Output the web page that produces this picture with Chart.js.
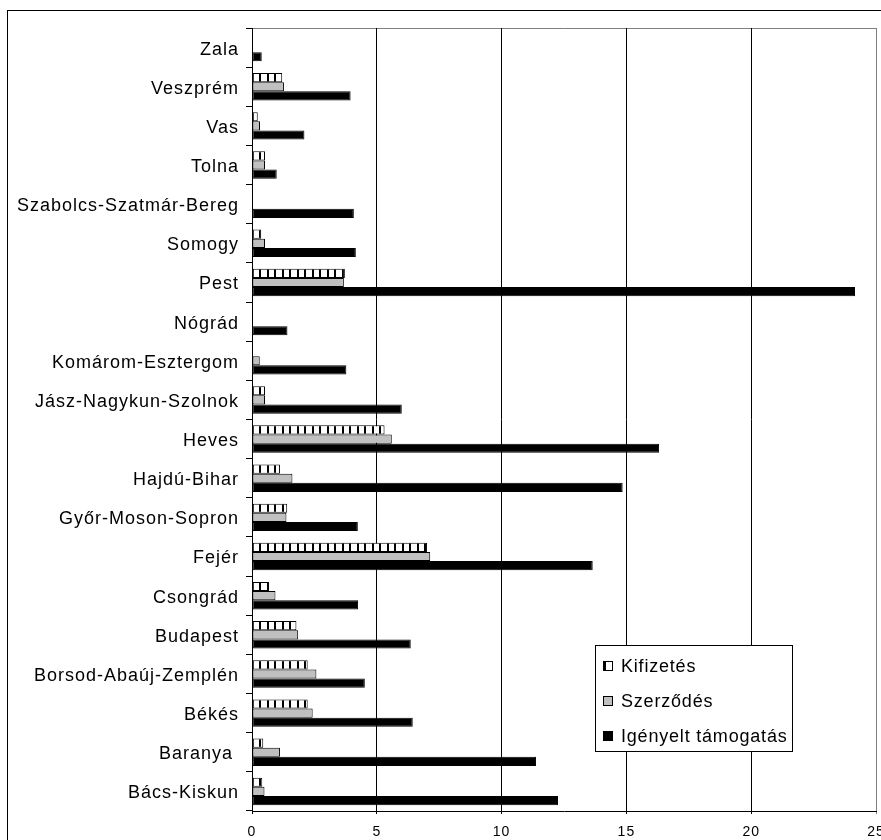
<!DOCTYPE html>
<html>
<head>
<meta charset="utf-8">
<script src="https://cdn.jsdelivr.net/npm/chart.js@4.4.0/dist/chart.umd.min.js"></script>
<style>
  html, body { margin: 0; padding: 0; background: #fff; overflow: hidden; }
  #wrap { position: relative; width: 900px; height: 840px; }
</style>
</head>
<body>
<div id="wrap"><canvas id="chart"></canvas></div>
<script>
const megyek = [
  "Zala", "Veszprém", "Vas", "Tolna", "Szabolcs-Szatmár-Bereg", "Somogy", "Pest",
  "Nógrád", "Komárom-Esztergom", "Jász-Nagykun-Szolnok", "Heves", "Hajdú-Bihar",
  "Győr-Moson-Sopron", "Fejér", "Csongrád", "Budapest", "Borsod-Abaúj-Zemplén",
  "Békés", "Baranya ", "Bács-Kiskun",
];
const kifizetes = [
  0, 1.21, 0.23, 0.52, 0, 0.37, 3.72, 0, 0, 0.52,
  5.31, 1.12, 1.41, 7.01, 0.68, 1.78, 2.23, 2.23, 0.45, 0.41,
];
const szerzodes = [
  0, 1.28, 0.32, 0.52, 0, 0.52, 3.68, 0, 0.31, 0.52,
  5.6, 1.62, 1.38, 7.14, 0.94, 1.85, 2.58, 2.43, 1.12, 0.5,
];
const igenyelt = [
  0.39, 3.95, 2.1, 0.99, 4.08, 4.16, 24.16, 1.42, 3.78, 6.0,
  16.31, 14.85, 4.24, 13.65, 4.25, 6.36, 4.52, 6.44, 11.38, 12.26,
];
const seriesNames = ["Kifizetés", "Szerződés", "Igényelt támogatás"];
const xMin = 0, xMax = 25, xStep = 5;

const FONT = '"Liberation Sans", Arial, sans-serif';

// vertical stripe fill for the "Kifizetés" bars
function stripes() {
  const c = document.createElement("canvas");
  c.width = 15; c.height = 4;
  const g = c.getContext("2d");
  g.fillStyle = "#fff"; g.fillRect(0, 0, 15, 4);
  g.fillStyle = "#000";
  g.fillRect(0, 0, 2, 4);
  g.fillRect(7, 0, 2, 4);
  const p = g.createPattern(c, "repeat");
  p.setTransform(new DOMMatrix([1, 0, 0, 1, 252, 0]));
  return p;
}

const frame = {
  id: "frame",
  beforeDraw(chart) {
    const ctx = chart.ctx;
    const a = chart.chartArea;
    ctx.save();
    ctx.fillStyle = "#fff";
    ctx.fillRect(0, 0, chart.width, chart.height);
    ctx.strokeStyle = "#000";
    ctx.lineWidth = 1;
    ctx.strokeRect(7.5, 10.5, chart.width + 20, chart.height + 20);
    ctx.strokeStyle = "#808080";
    ctx.beginPath();
    ctx.moveTo(a.left, a.top + 0.5);
    ctx.lineTo(a.right + 0.5, a.top + 0.5);
    ctx.lineTo(a.right + 0.5, a.bottom);
    ctx.stroke();
    ctx.restore();
    ctx.letterSpacing = "1px";
  },
  afterDraw(chart) {
    const ctx = chart.ctx;
    ctx.save();
    const bx = 595.5, by = 645.5, bw = 197, bh = 106;
    ctx.fillStyle = "#fff";
    ctx.fillRect(bx, by, bw, bh);
    ctx.strokeStyle = "#000";
    ctx.lineWidth = 1;
    ctx.strokeRect(bx, by, bw, bh);
    ctx.font = "18px " + FONT;
    ctx.letterSpacing = "0.8px";
    ctx.textAlign = "left";
    ctx.textBaseline = "alphabetic";
    chart.data.datasets.forEach((ds, i) => {
      const y = 661.5 + 35 * i;
      ctx.fillStyle = ds.backgroundColor;
      ctx.fillRect(603.5, y, 9, 9);
      ctx.strokeRect(603.5, y, 9, 9);
      ctx.fillStyle = "#000";
      ctx.fillText(ds.label, 621, 672 + 35 * i);
    });
    ctx.restore();
  },
};

new Chart(document.getElementById("chart"), {
  type: "bar",
  data: {
    labels: megyek,
    datasets: [
      { label: seriesNames[0], data: kifizetes, backgroundColor: stripes(), borderColor: "#000", borderWidth: 1, borderSkipped: false },
      { label: seriesNames[1], data: szerzodes, backgroundColor: "#c0c0c0", borderColor: "#000", borderWidth: 1, borderSkipped: false },
      { label: seriesNames[2], data: igenyelt, backgroundColor: "#000", borderColor: "#000", borderWidth: 1, borderSkipped: false },
    ],
  },
  options: {
    indexAxis: "y",
    responsive: true,
    maintainAspectRatio: false,
    animation: false,
    datasets: { bar: { categoryPercentage: 0.7, barPercentage: 1 } },
    layout: { padding: { top: 28, right: 24, left: 0, bottom: 0 } },
    plugins: { legend: { display: false }, tooltip: { enabled: false } },
    scales: {
      x: {
        min: xMin, max: xMax,
        ticks: { stepSize: xStep, color: "#000", font: { family: FONT, size: 14 }, padding: 10, maxRotation: 0 },
        grid: {
          color: (c) => (c.tick && c.tick.value === xMax ? "#808080" : "#000"),
          tickLength: 3,
        },
        border: { color: "#000" },
        afterFit: (s) => { s.height = 29; },
      },
      y: {
        ticks: { color: "#000", font: { family: FONT, size: 18 }, padding: 7, autoSkip: false, labelOffset: 2 },
        grid: { drawOnChartArea: false, color: "#000", tickLength: 6, offset: true },
        border: { color: "#000" },
        afterFit: (s) => { s.width = 252; },
      },
    },
  },
  plugins: [frame],
});
</script>
</body>
</html>
